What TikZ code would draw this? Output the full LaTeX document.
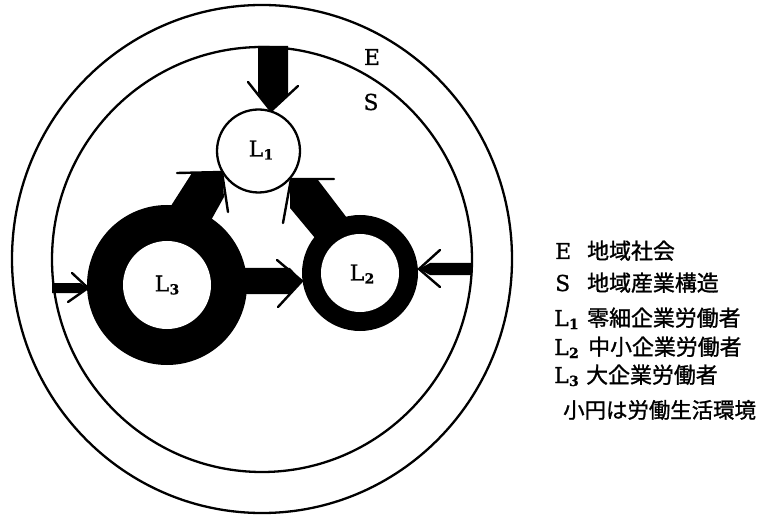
\documentclass[tikz,border=0pt]{standalone}
\usepackage{fontspec}
\setmainfont{DejaVu Serif}
\newfontfamily\lat[FakeBold=0.8]{DejaVu Serif}
\newfontfamily\jp[FakeBold=1.2]{Noto Sans CJK JP}
\newcommand{\Lsub}[1]{L\kern0.3bp\raisebox{-3bp}{\fontsize{14}{14}\selectfont\bfseries #1}}
\begin{document}
\begin{tikzpicture}[x=1bp,y=-1bp,
  bigring/.style={line width=2.3bp},
  barb/.style={line width=2.4bp, line cap=round},
  shaft/.style={fill=black, draw=none},
  lab/.style={font=\lat\fontsize{22}{24}\selectfont, inner sep=0pt},
  legl/.style={font=\lat\fontsize{22}{24}\selectfont, anchor=base west, inner sep=0pt},
  legj/.style={font=\jp\fontsize{22}{24}\selectfont, anchor=base west, inner sep=0pt}]
\useasboundingbox (0,0) rectangle (757,515);
% E and S circles
\draw[bigring] (262,259) ellipse [x radius=250bp, y radius=254bp];
\draw[bigring] (262,259.5) ellipse [x radius=210bp, y radius=212.5bp];
% shafts between worker circles
\fill[shaft] (192,173) -- (222,173) -- (224,197) -- (200,240) -- (160,223) -- cycle;
\fill[shaft] (290,180) -- (318,180) -- (360,235) -- (335,262) -- (290,208) -- cycle;
\fill[shaft] (230,268) -- (290,268) -- (302,281) -- (290,294) -- (230,294) -- cycle;
% L3 ring
\fill[black] (167,285) circle [radius=80bp];
\fill[white] (167,285) circle [radius=44bp];
% L2 ring
\fill[black] (360,273) circle [radius=58bp];
\fill[white] (360,273) circle [radius=39bp];
% top arrow
\fill[shaft] (258,46) -- (288,46) -- (288,95) -- (271,111) -- (258,93) -- cycle;
\draw[barb] (248,82) -- (271,111) -- (298,86);
% L1 circle
\node[circle, draw, line width=2.3bp, fill=white, minimum size=83bp, inner sep=0pt] (C1) at (258.5,151) {};
% barbs of inner arrows
\draw[barb] (177,173) -- (222,172) -- (228,212);
\draw[barb] (334,179) -- (291,179) -- (283,223);
\draw[barb] (277,260) -- (302,281) -- (278,307);
% left arrow
\fill[shaft] (52,283) -- (80,283) -- (88,288) -- (80,293) -- (52,293) -- cycle;
\draw[barb] (72,273) -- (88,288) -- (68,302);
% right arrow
\fill[shaft] (472,263) -- (430,263) -- (419,269) -- (430,275) -- (472,275) -- cycle;
\draw[barb] (440,250) -- (419,269) -- (440,287);
% circle labels
\node[lab] (L1) at (261,150) {\Lsub{1}};
\node[lab] (L2) at (362,274) {\Lsub{2}};
\node[lab] (L3) at (167,285) {\Lsub{3}};
\node[lab] (E) at (372,57) {E};
\node[lab] (S) at (371,102) {S};
% legend
\node[legl] (kE) at (555,259) {E};
\node[legj] (tE) at (587,259) {地域社会};
\node[legl] (kS) at (555,291) {S};
\node[legj] (tS) at (587,291) {地域産業構造};
\node[legl] (k1) at (554,326) {\Lsub{1}};
\node[legj] (t1) at (587,326) {零細企業労働者};
\node[legl] (k2) at (554,355) {\Lsub{2}};
\node[legj] (t2) at (588,355) {中小企業労働者};
\node[legl] (k3) at (554,383) {\Lsub{3}};
\node[legj] (t3) at (586,383) {大企業労働者};
\node[legj, font=\jp\fontsize{21.5}{24}\selectfont] (tc) at (563,418) {小円は労働生活環境};
\end{tikzpicture}
\end{document}
